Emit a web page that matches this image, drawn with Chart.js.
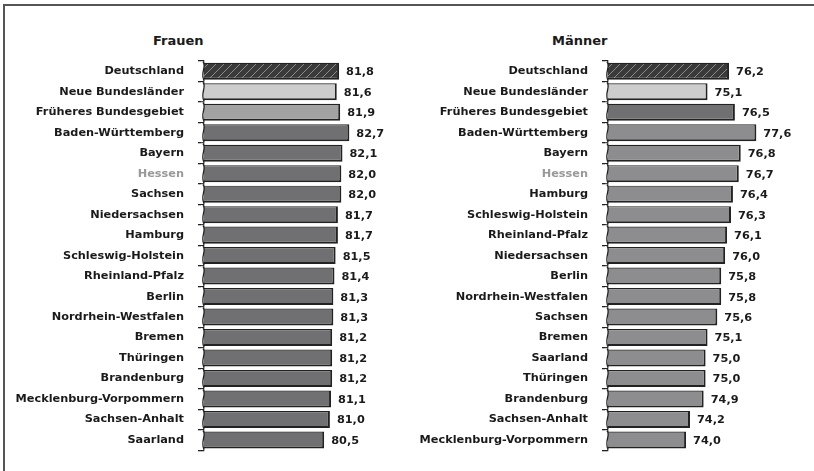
<!DOCTYPE html>
<html><head><meta charset="utf-8">
<script src="https://cdn.jsdelivr.net/npm/chart.js@4/dist/chart.umd.min.js"></script>
<style>
html,body{margin:0;padding:0;background:#fff;}
#wrap{position:relative;width:814px;height:471px;overflow:hidden;background:#fff;}
#frame{position:absolute;left:3px;top:4px;width:830px;height:490px;border-top:2px solid #555;border-left:2px solid #555;}
.title{position:absolute;top:33px;font:bold 13px "DejaVu Sans";color:#1a1a1a;white-space:nowrap;}
#c1{position:absolute;left:0;top:0;}
#c2{position:absolute;left:404px;top:0;}
</style></head><body>
<div id="wrap">
<div id="frame"></div>
<div class="title" style="left:153px">Frauen</div>
<div class="title" style="left:552px">Männer</div>
<canvas id="c1" width="404" height="471" style="width:404px;height:471px"></canvas>
<canvas id="c2" width="410" height="471" style="width:410px;height:471px"></canvas>
</div>
<script>
const categoriesFrauen = ["Deutschland","Neue Bundesländer","Früheres Bundesgebiet","Baden-Württemberg","Bayern","Hessen","Sachsen","Niedersachsen","Hamburg","Schleswig-Holstein","Rheinland-Pfalz","Berlin","Nordrhein-Westfalen","Bremen","Thüringen","Brandenburg","Mecklenburg-Vorpommern","Sachsen-Anhalt","Saarland"];
const valuesFrauen = [81.8,81.6,81.9,82.7,82.1,82.0,82.0,81.7,81.7,81.5,81.4,81.3,81.3,81.2,81.2,81.2,81.1,81.0,80.5];
const categoriesMaenner = ["Deutschland","Neue Bundesländer","Früheres Bundesgebiet","Baden-Württemberg","Bayern","Hessen","Hamburg","Schleswig-Holstein","Rheinland-Pfalz","Niedersachsen","Berlin","Nordrhein-Westfalen","Sachsen","Bremen","Saarland","Thüringen","Brandenburg","Sachsen-Anhalt","Mecklenburg-Vorpommern"];
const valuesMaenner = [76.2,75.1,76.5,77.6,76.8,76.7,76.4,76.3,76.1,76.0,75.8,75.8,75.6,75.1,75.0,75.0,74.9,74.2,74.0];

function hatch(){
  const c=document.createElement('canvas'); c.width=8; c.height=8;
  const g=c.getContext('2d');
  g.fillStyle='#3a3a3a'; g.fillRect(0,0,8,8);
  g.strokeStyle='#8c8c8c'; g.lineWidth=1;
  g.beginPath(); g.moveTo(-1,9); g.lineTo(9,-1); g.moveTo(-5,5); g.lineTo(5,-5); g.moveTo(3,13); g.lineTo(13,3); g.stroke();
  return g.createPattern(c,'repeat');
}
const FONT='"DejaVu Sans", Verdana, sans-serif';
const TXT='#1a1a1a';

const valueLabels={id:'valueLabels',afterDatasetsDraw(chart){
  const ctx=chart.ctx, ds=chart.data.datasets[0];
  chart.getDatasetMeta(0).data.forEach((el,i)=>{
    ctx.save(); ctx.font='bold 11.3px '+FONT; ctx.fillStyle=TXT; ctx.textBaseline='middle'; ctx.textAlign='left';
    ctx.fillText(ds.data[i].toFixed(1).replace('.',','), el.x+7, el.y+1);
    ctx.restore();
  });
}};
const waveBreak={id:'waveBreak',afterDatasetsDraw(chart){
  const ctx=chart.ctx, x0=chart.chartArea.left;
  chart.getDatasetMeta(0).data.forEach(el=>{
    const h=el.height, t=el.y-h/2-1, b=el.y+h/2+1;
    ctx.save();
    ctx.fillStyle='#fff'; ctx.fillRect(x0-3,t,3,b-t);
    ctx.strokeStyle='#222'; ctx.lineWidth=1.3;
    ctx.beginPath(); ctx.moveTo(x0-1,t);
    ctx.bezierCurveTo(x0+3,t+h*0.3,x0-4,t+h*0.6,x0,b);
    ctx.stroke(); ctx.restore();
  });
}};

function makeChart(id, labels, values, max, colorFn){
  const hp=hatch();
  const colors=values.map((v,i)=> i===0?hp:(i===1?'#cdcdcd':colorFn(i)));
  return new Chart(document.getElementById(id),{
    type:'bar',
    data:{labels:labels,datasets:[{data:values,backgroundColor:colors,borderColor:'#222',
      borderWidth:{top:1.2,right:2,bottom:2,left:0},borderSkipped:false,barPercentage:0.83,categoryPercentage:1}]},
    options:{indexAxis:'y',responsive:false,animation:false,
      layout:{padding:{top:61,bottom:17,right:10,left:0}},
      plugins:{legend:{display:false},tooltip:{enabled:false},title:{display:false}},
      scales:{
        x:{display:false,min:70,max:max},
        y:{afterFit(s){s.width=204;},
          grid:{display:true,drawOnChartArea:false,offset:true,tickLength:6,color:'#222',lineWidth:1.3},
          border:{display:true,color:'#222',width:1.3},
          ticks:{padding:14,font:{family:FONT,weight:'bold',size:11.3},
            color:ctx=> labels[ctx.index]==='Hessen'?'#999':TXT}}
      }},
    plugins:[valueLabels,waveBreak]
  });
}
makeChart('c1',categoriesFrauen,valuesFrauen,86.6,i=> i===2?'#a2a2a2':'#707072');
makeChart('c2',categoriesMaenner,valuesMaenner,80.04,i=> i===2?'#707072':'#8d8d8f');
</script>
</body></html>
